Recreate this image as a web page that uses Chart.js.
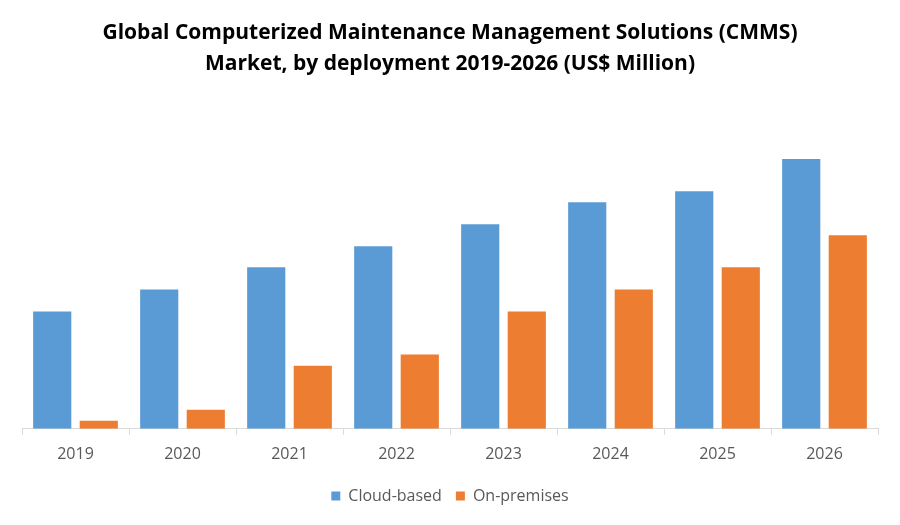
<!DOCTYPE html>
<html>
<head>
<meta charset="utf-8">
<script src="https://cdn.jsdelivr.net/npm/chart.js@4"></script>
<style>
  body { margin: 0; background: #fff; }
  #wrap { width: 900px; height: 525px; }
</style>
</head>
<body>
<div id="wrap"><canvas id="cmmsChart" width="900" height="525"></canvas></div>
<script>
// data (relative bar heights)
var years = ["2019", "2020", "2021", "2022", "2023", "2024", "2025", "2026"];
var cloudBased = [117, 139, 161, 182, 204, 226, 237, 269];
var onPremises = [8, 19, 63, 74, 117, 139, 161, 193];

var ctx = document.getElementById("cmmsChart");
var chart = new Chart(ctx, {
    type: "bar",
    data: {
        labels: years,
        datasets: [
            {
                label: "Cloud-based",
                data: cloudBased,
                backgroundColor: "#5b9bd5",
            },
            {
                label: "On-premises",
                data: onPremises,
                backgroundColor: "#ed7d31",
            },
        ],
    },
    options: {
        responsive: false,
        animation: false,
        categoryPercentage: 0.87,
        barPercentage: 0.82,
        layout: {
            padding: { left: 22, right: 22, bottom: 11, top: 0 },
        },
        plugins: {
            title: {
                display: true,
                text: [
                    "Global Computerized Maintenance Management Solutions (CMMS)",
                    "Market, by deployment 2019-2026 (US$ Million)",
                ],
                color: "#000",
                font: { family: "Open Sans", size: 21, weight: "bold", lineHeight: 1.45 },
                padding: { top: 18, bottom: 17 },
            },
            legend: {
                position: "bottom",
                labels: {
                    color: "#595959",
                    font: { family: "Open Sans", size: 16 },
                    boxWidth: 9,
                    boxHeight: 9,
                    padding: 14,
                },
            },
            tooltip: { enabled: false },
        },
        scales: {
            x: {
                grid: {
                    display: true,
                    drawOnChartArea: false,
                    drawTicks: true,
                    tickLength: 6,
                    color: "#d9d9d9",
                },
                border: { color: "#d9d9d9" },
                ticks: {
                    color: "#595959",
                    font: { family: "Open Sans", size: 16 },
                    padding: 10,
                },
            },
            y: {
                display: false,
                beginAtZero: true,
                max: 332,
            },
        },
    },
});
</script>
</body>
</html>
